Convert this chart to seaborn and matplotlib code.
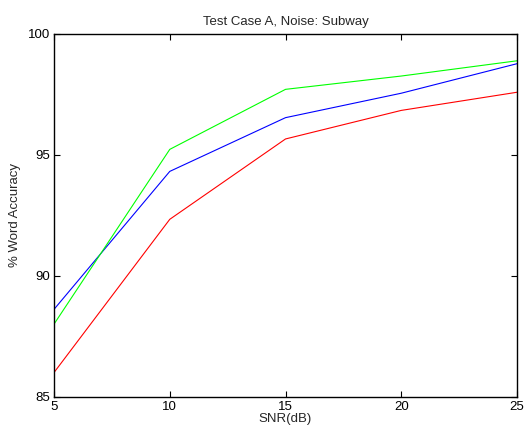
import matplotlib
matplotlib.use("Agg")
import matplotlib.pyplot as plt
import seaborn as sns
import pandas as pd

snr = [5, 10, 15, 20, 25]
red_acc = [86.0, 92.33, 95.65, 96.83, 97.58]
blue_acc = [88.61, 94.31, 96.53, 97.54, 98.76]
green_acc = [88.0, 95.22, 97.7, 98.25, 98.88]
series_names = ["red", "blue", "green"]
colors = {"red": "#ff0000", "blue": "#0000ff", "green": "#00ff00"}
x_ticks = [5, 10, 15, 20, 25]
y_ticks = [85, 90, 95, 100]

rows = []
for name, vals in zip(series_names, [red_acc, blue_acc, green_acc]):
    for x, y in zip(snr, vals):
        rows.append({"SNR": x, "acc": y, "series": name})
df = pd.DataFrame(rows)

sns.set_style("ticks")
plt.rcParams["font.family"] = ["Liberation Sans", "DejaVu Sans"]
fs = 9.5
plt.rcParams["font.size"] = fs

fig = plt.figure(figsize=(5.25, 4.34), dpi=100)
ax = fig.add_axes([0.1029, 0.0859, 0.8819, 0.8365])
sns.lineplot(data=df, x="SNR", y="acc", hue="series", palette=colors,
             hue_order=series_names, linewidth=0.8, legend=False, ax=ax)
ax.set_xlim(5, 25)
ax.set_ylim(85, 100)
ax.set_xticks(x_ticks)
ax.set_yticks(y_ticks)
ax.tick_params(direction="in", top=True, right=True, length=4, width=0.8,
               labelsize=fs, colors="black", pad=3)
for s in ax.spines.values():
    s.set_visible(True)
    s.set_linewidth(1.0)
    s.set_color("black")
ax.set_xlabel("SNR(dB)", fontsize=fs, labelpad=0)
ax.set_ylabel("% Word Accuracy", fontsize=fs, labelpad=5)
ax.set_title("Test Case A, Noise: Subway", fontsize=fs, pad=6)
fig.savefig("out.png", dpi=100)
